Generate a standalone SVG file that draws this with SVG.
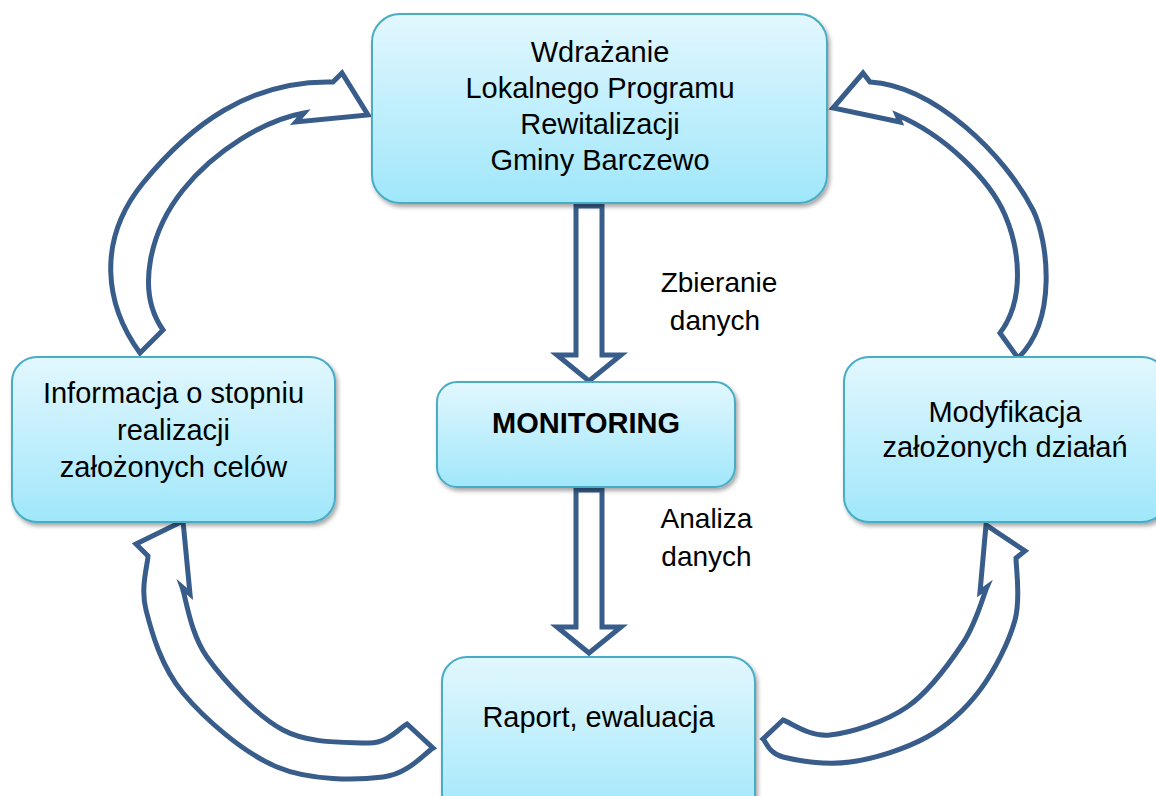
<svg xmlns="http://www.w3.org/2000/svg" width="1156" height="796" viewBox="0 0 1156 796">
<defs>
<linearGradient id="g" x1="0" y1="0" x2="0" y2="1">
<stop offset="0" stop-color="#E2F7FE"/>
<stop offset="1" stop-color="#A0E7FB"/>
</linearGradient>
<filter id="sh" x="-10%" y="-10%" width="125%" height="130%">
<feDropShadow dx="2" dy="3" stdDeviation="2" flood-color="#000" flood-opacity="0.35"/>
</filter>
</defs>
<style>
.box{fill:url(#g);stroke:#4AACC5;stroke-width:2;filter:url(#sh)}
.t{font-family:"Liberation Sans",Arial,sans-serif;font-size:29px;fill:#000;text-anchor:middle}
.lbl{font-family:"Liberation Sans",Arial,sans-serif;font-size:28px;fill:#000;text-anchor:middle}
.arr{fill:#fff;stroke:#385D8A;stroke-width:5;stroke-linejoin:miter;stroke-miterlimit:6}
</style>
<rect width="1156" height="796" fill="#fff"/>
<g id="connectors">
<path class="arr" d="M576,206 L602,206 L602,355 L621,355 L589,381 L557,355 L576,355 Z"/>
<path class="arr" d="M576,490 L602,490 L602,627 L621,627 L589,653 L557,627 L576,627 Z"/>
<path class="arr" d="M140,353 C105,305 96,241 143,183 C190,125 250,80 333,82 L342,73 L368,115 L296,122 L304,113 C265,120 215,150 183,190 C151,230 135,290 163,330 Z"/>
<path class="arr" d="M870,82 C935,86 1005,155 1033,210 C1048,240 1058,320 1018,358 L1000,333 C1025,300 1020,250 1005,215 C990,180 945,135 897,115 L900,122 L833,108 L863,73 Z"/>
<path class="arr" d="M148,556 C147.7,565 140.2,587.2 146,610 C151.8,632.8 161.2,666.8 183,693 C204.8,719.2 243.7,753 277,767 C310.3,781 357,780.2 383,777 C409,773.8 424.7,752.8 433,748 L407,724 C400.3,727.2 387.7,744 367,743 C346.3,742 309.7,744.3 283,730 C256.3,715.7 223.8,680.8 207,657 C190.2,633.2 186.2,598.7 182,587 L190,594 L183,521 L136,544 Z"/>
<path class="arr" d="M1016,558 C1016,568.7 1021,598 1015,620 C1009,642 994.7,670.5 980,690 C965.3,709.5 948.7,725 927,737 C905.3,749 874,758.7 850,762 C826,765.3 797.5,760.8 783,757 C768.5,753.2 766.3,742 763,739 L783,720 C790.8,722.5 809.3,737.2 830,735 C850.7,732.8 884.8,722.3 907,707 C929.2,691.7 949.7,663 963,643 C976.3,623 983,596.3 987,587 L980,592 L986,525 L1025,551 Z"/>
</g>
<g id="node-top">
<rect class="box" x="372" y="14" width="455" height="189" rx="28"/>
<text class="t" x="600" y="62">Wdrażanie</text>
<text class="t" x="600" y="98">Lokalnego Programu</text>
<text class="t" x="600" y="134">Rewitalizacji</text>
<text class="t" x="600" y="170">Gminy Barczewo</text>
</g>
<g id="node-left">
<rect class="box" x="12" y="357" width="323" height="165" rx="25"/>
<text class="t" x="173.5" y="403">Informacja o stopniu</text>
<text class="t" x="173.5" y="440">realizacji</text>
<text class="t" x="173.5" y="477">założonych celów</text>
</g>
<g id="node-monitoring">
<rect class="box" x="437" y="382" width="298" height="105" rx="20"/>
<text class="t" x="586" y="433" font-weight="bold">MONITORING</text>
</g>
<g id="node-right">
<rect class="box" x="844" y="357" width="323" height="165" rx="25"/>
<text class="t" x="1005" y="422">Modyfikacja</text>
<text class="t" x="1005" y="457">założonych działań</text>
</g>
<g id="node-bottom">
<rect class="box" x="442" y="657" width="313" height="165" rx="25"/>
<text class="t" x="598.5" y="727">Raport, ewaluacja</text>
</g>
<g id="labels">
<text class="lbl" x="719" y="292">Zbieranie</text>
<text class="lbl" x="715" y="330">danych</text>
<text class="lbl" x="706.5" y="528">Analiza</text>
<text class="lbl" x="706.5" y="566">danych</text>
</g>
</svg>
